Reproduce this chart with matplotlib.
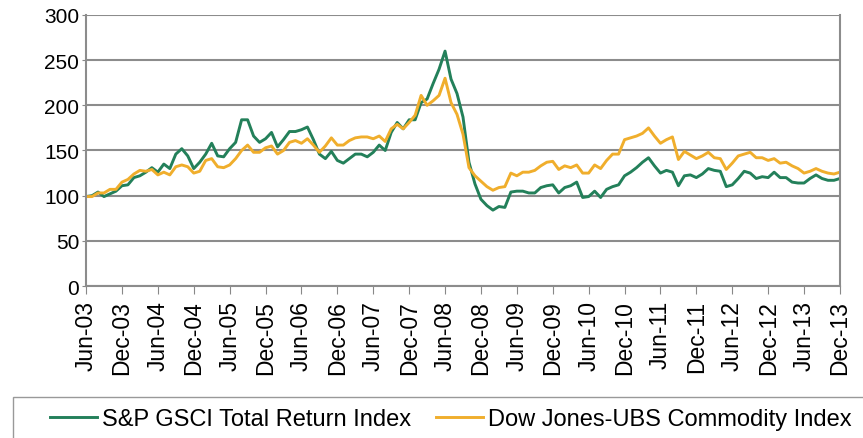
import matplotlib.pyplot as plt
import matplotlib.patches as mpatches
import numpy as np
import pandas as pd

# Meses de Jun-03 a Dec-13
fechas = pd.date_range('2003-06-01', periods=127, freq='MS')

gsci = [
    99, 100, 104, 99, 102, 105, 111, 112, 120, 122, 126, 131,
    126, 135, 130, 146, 152, 144, 130, 137, 146, 158, 144, 143,
    152, 159, 184, 184, 166, 159, 163, 170, 154, 162, 171, 171,
    173, 176, 162, 146, 141, 149, 139, 136, 141, 146, 146, 143,
    148, 156, 150, 170, 181, 174, 184, 184, 203, 207, 224, 240,
    260, 229, 213, 187, 137, 113, 96, 89, 84, 88, 87, 104,
    105, 105, 103, 103, 109, 111, 112, 103, 109, 111, 115, 98,
    99, 105, 98, 107, 110, 112, 122, 126, 131, 137, 142, 133,
    125, 128, 126, 111, 122, 123, 120, 124, 130, 128, 127, 110,
    112, 119, 127, 125, 119, 121, 120, 126, 120, 120, 115, 114,
    114, 119, 123, 119, 117, 117, 119,
]

djubs = [
    99, 99, 103, 103, 107, 107, 115, 118, 124, 128, 127, 129,
    123, 126, 123, 132, 134, 132, 125, 127, 139, 141, 132, 131,
    134, 141, 150, 156, 148, 148, 153, 155, 146, 150, 159, 161,
    158, 163, 156, 148, 155, 164, 156, 156, 161, 164, 165, 165,
    163, 166, 160, 174, 179, 174, 181, 189, 211, 200, 205, 211,
    230, 203, 190, 168, 131, 122, 116, 110, 106, 109, 110, 125,
    122, 126, 126, 128, 133, 137, 138, 129, 133, 131, 134, 125,
    125, 134, 130, 139, 146, 146, 162, 164, 166, 169, 175, 166,
    158, 162, 165, 140, 149, 145, 141, 144, 148, 142, 141, 129,
    136, 144, 146, 148, 142, 142, 139, 141, 136, 137, 133, 130,
    125, 127, 130, 127, 125, 124, 126,
]

nombres = ['S&P GSCI Total Return Index', 'Dow Jones-UBS Commodity Index']
colores = ['#23805A', '#F0AE2C']

x = np.arange(len(fechas))
etiquetas = [f.strftime('%b-%y') for f in fechas[::6]]

fig = plt.figure(figsize=(8.63, 4.39), dpi=100)
ax = fig.add_axes([0.0997, 0.3462, 0.8736, 0.6174])

ax.plot(x, gsci, color=colores[0], lw=2.1, label=nombres[0])
ax.plot(x, djubs, color=colores[1], lw=2.1, label=nombres[1])

ax.set_xlim(0, len(x) - 1)
ax.set_ylim(0, 300)
ax.set_yticks(range(0, 301, 50))
ax.set_xticks(x[::6])
ax.set_xticklabels(etiquetas, rotation=90, fontsize=16.5, family='Liberation Sans')
ax.tick_params(axis='y', labelsize=15, length=3, color='#888888', pad=2)
ax.tick_params(axis='x', length=6, color='#888888', pad=4)
for lab in ax.get_yticklabels():
    lab.set_family('Liberation Sans')

ax.grid(axis='y', color='#8c8c8c', lw=1.5)
ax.set_axisbelow(True)
for lado in ['left', 'bottom', 'right']:
    ax.spines[lado].set_color('#8c8c8c')
    ax.spines[lado].set_linewidth(1.5)
ax.spines['top'].set_visible(False)

# marco de la leyenda (se sale de la figura por la derecha y por abajo)
marco = mpatches.Rectangle((13 / 863, -0.1), 1.2, 0.1 + (439 - 398) / 439,
                           transform=fig.transFigure, fill=False,
                           edgecolor='#999999', lw=1.0, clip_on=False)
fig.add_artist(marco)

leg = fig.legend(loc='center left', bbox_to_anchor=(50 / 863, 1 - 420 / 439),
                 ncol=2, frameon=False, borderaxespad=0, borderpad=0,
                 prop={'family': 'Liberation Sans', 'size': 17},
                 handlelength=2.0, handletextpad=0.2, columnspacing=1.05)

fig.savefig('out.png', dpi=100)
